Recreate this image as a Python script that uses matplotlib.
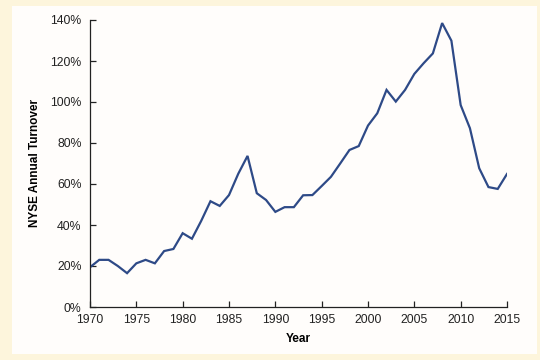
import matplotlib
matplotlib.use("Agg")
import matplotlib.pyplot as plt
from matplotlib.patches import Rectangle
from matplotlib.ticker import FuncFormatter

years = list(range(1970, 2016))
turnover = [19.4, 23, 23, 20, 16.5, 21.3, 23, 21.3, 27.3, 28.3,
            36, 33.3, 42, 51.6, 49.3, 54.6, 65, 73.7, 55.5, 52.2,
            46.4, 48.7, 48.7, 54.5, 54.6, 59, 63.5, 70, 76.6, 78.5,
            88.5, 94.5, 105.9, 100.2, 105.9, 113.7, 118.9, 123.7, 138.5, 129.9,
            98.5, 87.2, 67.7, 58.5, 57.6, 64.9]
yticks = [0, 20, 40, 60, 80, 100, 120, 140]
xticks = [1970, 1975, 1980, 1985, 1990, 1995, 2000, 2005, 2010, 2015]

plt.rcParams['font.family'] = ['Liberation Sans', 'DejaVu Sans']

fig = plt.figure(figsize=(5.4, 3.6), dpi=100)
fig.patch.set_facecolor('#fdf5dc')
fig.patches.append(Rectangle((12/540, (360-354)/360), (537-12)/540, (354-6)/360,
                             transform=fig.transFigure, facecolor='#fffdfb',
                             edgecolor='none', zorder=-10))

ax = fig.add_axes([90/540, (360-307)/360, (507-90)/540, (307-20)/360])
ax.set_zorder(5)
ax.set_facecolor('none')
ax.plot(years, turnover, color='#2e4a87', lw=1.6, solid_joinstyle='miter')
ax.set_xlim(1970, 2015)
ax.set_ylim(0, 140)
ax.set_xticks(xticks)
ax.set_yticks(yticks)
ax.yaxis.set_major_formatter(FuncFormatter(lambda v, p: f"{int(v)}%"))
for s in ['top', 'right']:
    ax.spines[s].set_visible(False)
for s in ['left', 'bottom']:
    ax.spines[s].set_color('#222222')
    ax.spines[s].set_linewidth(0.9)
ax.tick_params(direction='in', length=4, width=0.9, color='#222222',
               labelsize=8.8, labelcolor='#222222')
ax.tick_params(axis='y', pad=6)
ax.tick_params(axis='x', pad=5)
ax.set_xlabel('Year', fontsize=8.5, fontweight='bold', labelpad=5)
ax.set_ylabel('NYSE Annual Turnover', fontsize=8.5, fontweight='bold', labelpad=7)

fig.savefig('out.png', dpi=100, facecolor=fig.get_facecolor())
